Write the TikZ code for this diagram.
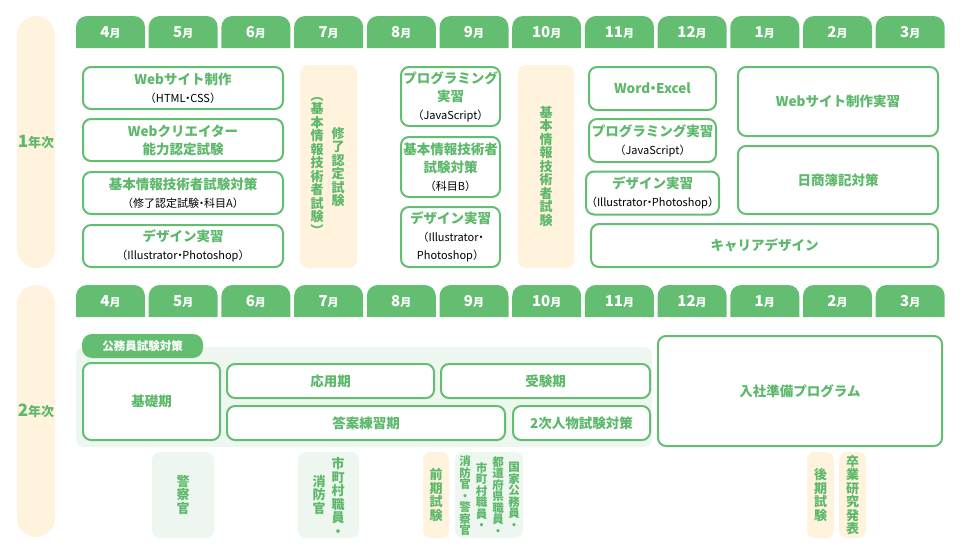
\documentclass[tikz,border=0pt]{standalone}
\usepackage{fontspec}
\setmainfont{Noto Sans CJK JP}
\definecolor{tabgreen}{HTML}{64BE72}
\definecolor{txtgreen}{HTML}{5CB86A}
\definecolor{cream}{HTML}{FFF3DE}
\definecolor{palegreen}{HTML}{EDF7EF}
% stacked (vertical) writing, one glyph per line
\def\tate#1{\vbox{\tatei#1\relax}}
\def\tatei#1{\ifx\relax#1\else\hbox to 1em{\hss#1\hss}\expandafter\tatei\fi}
\newcommand\subline[1]{{\fontsize{11}{14}\selectfont\mdseries\color{black}#1}}
\newcommand\nakapt{{\kern-.28em・\kern-.28em}}
\tikzset{
  course/.style={draw=tabgreen, line width=2pt, fill=white, rounded corners=8pt, text=txtgreen,
    align=center, inner sep=0pt, font=\fontsize{13.5}{18}\selectfont\bfseries},
  month/.style={text=white, inner sep=0pt, font=\bfseries},
  yearpill/.style={fill=cream, rounded corners=19pt, minimum width=38, minimum height=252,
    text=txtgreen, inner sep=0pt, font=\fontsize{13}{13}\selectfont\bfseries},
  exambox/.style={fill=cream, rounded corners=8pt, inner sep=0pt},
  jobbox/.style={fill=palegreen, rounded corners=8pt, inner sep=0pt},
  tatelbl/.style={text=txtgreen, inner sep=0pt, font=\fontsize{13}{13.5}\selectfont\bfseries},
  tatesm/.style={text=txtgreen, inner sep=0pt, font=\fontsize{11.5}{11.5}\selectfont\bfseries},
}
\begin{document}
\begin{tikzpicture}[x=1pt, y=-1pt, line join=round]
  \useasboundingbox (0,0) rectangle (961,554);
  % years
  \node[yearpill] (yr1) at (36,142) {{\fontsize{17}{17}\selectfont 1}年次};
  \node[yearpill] (yr2) at (36,411) {{\fontsize{17}{17}\selectfont 2}年次};
  % month tabs
  \foreach \yt/\r in {16/a,285/b}{
    \foreach \m [count=\i from 0] in {4,5,6,7,8,9,10,11,12,1,2,3}{
      \pgfmathsetmacro\xl{76+72.7*\i}
      \fill[tabgreen] (\xl,\yt+32) [rounded corners=11pt] -- (\xl,\yt) -- (\xl+69,\yt)
        [sharp corners] -- (\xl+69,\yt+32) -- cycle;
      \node[month] (\r\m) at (\xl+34.5,\yt+16.5)
        {{\fontsize{15}{15}\selectfont\m}{\fontsize{11}{11}\selectfont 月}};
    }
  }

  % 1st year
  \node[course, minimum width=200, minimum height=42] (web) at (183,88)
    {Webサイト制作\\\subline{（HTML\nakapt CSS）}};
  \node[course, minimum width=200, minimum height=42] (creator) at (183,140)
    {Webクリエイター\\能力認定試験};
  \node[course, minimum width=200, minimum height=42] (kihonA) at (183,193)
    {基本情報技術者試験対策\\\subline{（修了認定試験\nakapt 科目A）}};
  \node[course, minimum width=200, minimum height=42] (design1) at (183,246)
    {デザイン実習\\\subline{（Illustrator\nakapt Photoshop）}};

  \node[exambox, minimum width=57, minimum height=203] (exam7) at (328.5,166.5) {};
  \node[tatelbl] (exam7a) at (338,167) {\tate{修了認定試験}};
  \node[tatelbl] (exam7b) at (317,166) {\tate{︵基本情報技術者試験︶}};

  \node[course, minimum width=99, minimum height=59] (prog1) at (450.5,96.5)
    {プログラミング\\実習\\\subline{（JavaScript）}};
  \node[course, minimum width=99, minimum height=60] (kihonB) at (450.5,167)
    {基本情報技術者\\試験対策\\\subline{（科目B）}};
  \node[course, minimum width=99, minimum height=60] (design2) at (450.5,237)
    {デザイン実習\\\subline{（Illustrator\nakapt}\\\subline{Photoshop）}};

  \node[exambox, minimum width=56, minimum height=203] (exam10) at (546,166.5)
    {\tikz[baseline]\node[tatelbl] (exam10a) {\tate{基本情報技術者試験}};};

  \node[course, minimum width=127, minimum height=43] (office) at (652.5,88.5) {Word\nakapt Excel};
  \node[course, minimum width=127, minimum height=43] (prog2) at (652.5,140.5)
    {プログラミング実習\\\subline{（JavaScript）}};
  \node[course, minimum width=127, minimum height=43] (design3) at (652.5,193)
    {デザイン実習\\\subline{（Illustrator\nakapt Photoshop）}};

  \node[course, minimum width=200, minimum height=69] (webprac) at (838,101.5) {Webサイト制作実習};
  \node[course, minimum width=200, minimum height=68] (boki) at (838,180) {日商簿記対策};
  \node[course, minimum width=347, minimum height=43] (career) at (764.5,245.5) {キャリアデザイン};

  % 2nd year
  \node[jobbox, minimum width=576, minimum height=100] (koumuin) at (364,397) {};
  \node[fill=tabgreen, rounded corners=10pt, minimum width=121, minimum height=24, inner sep=0pt,
    text=white, font=\fontsize{11.5}{11.5}\selectfont\bfseries] (koumuintab) at (142.5,346) {公務員試験対策};
  \node[course, minimum width=137, minimum height=77] (kiso) at (151.5,401.5) {基礎期};
  \node[course, minimum width=207, minimum height=34] (ouyou) at (330.5,381) {応用期};
  \node[course, minimum width=209, minimum height=34] (juken) at (545.5,381) {受験期};
  \node[course, minimum width=278, minimum height=34] (touan) at (366,423) {答案練習期};
  \node[course, minimum width=137, minimum height=34] (niji) at (581.5,423) {2次人物試験対策};
  \node[course, minimum width=284, minimum height=110] (nyusha) at (800,391) {入社準備プログラム};

  \node[jobbox, minimum width=62, minimum height=86] (keisatsu) at (183,495)
    {\tikz[baseline]\node[tatelbl] {\tate{警察官}};};
  \node[jobbox, minimum width=61, minimum height=86] (shichou) at (328.5,495) {};
  \node[tatelbl] (shichoua) at (338,497) {\tate{市町村職員・}};
  \node[tatelbl] (shichoub) at (319,495) {\tate{消防官}};
  \node[exambox, minimum width=26, minimum height=86] (zenki) at (436,495)
    {\tikz[baseline]\node[tatelbl] {\tate{前期試験}};};
  \node[jobbox, minimum width=68, minimum height=86] (kokka) at (489,495) {};
  \node[tatesm] (kokkaa) at (514,496) {\tate{国家公務員・}};
  \node[tatesm] (kokkab) at (498,496) {\tate{都道府県職員・}};
  \node[tatesm] (kokkac) at (481.5,496) {\tate{市町村職員・}};
  \node[tatesm] (kokkad) at (465,496) {\tate{消防官・警察官}};
  \node[exambox, minimum width=27, minimum height=86] (kouki) at (820.5,495)
    {\tikz[baseline]\node[tatelbl] {\tate{後期試験}};};
  \node[exambox, minimum width=27, minimum height=86] (sotsuken) at (852.5,495)
    {\tikz[baseline]\node[tatelbl] {\tate{卒業研究発表}};};
\end{tikzpicture}
\end{document}
